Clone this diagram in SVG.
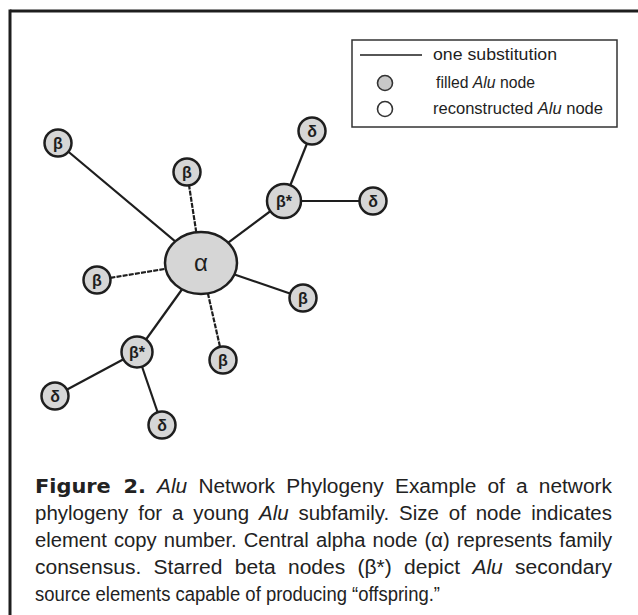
<svg xmlns="http://www.w3.org/2000/svg" width="638" height="615" viewBox="0 0 638 615">
<style>
.edge{stroke:#1e1e1e;stroke-width:2.2;fill:none}
.dash{stroke-dasharray:5 1.2}
.node{fill:#d6d6d6;stroke:#1e1e1e;stroke-width:2.5}
.lbl{font-family:"Liberation Sans",Arial,sans-serif;font-weight:bold;font-size:16px;fill:#1e1e1e;text-anchor:middle}
.alpha{font-family:"Liberation Sans",Arial,sans-serif;font-size:24px;fill:#1e1e1e;text-anchor:middle}
.leg{font-family:"Liberation Sans",Arial,sans-serif;font-size:16px;fill:#1e1e1e}
.cap{font-family:"Liberation Sans",Arial,sans-serif;font-size:19.5px;fill:#222}
.fig{font-family:"DejaVu Sans",sans-serif;font-weight:bold}
</style>
<rect x="0" y="0" width="638" height="615" fill="#ffffff"/>
<g id="frame">
<line x1="10" y1="11" x2="638" y2="11" stroke="#1e1e1e" stroke-width="3"/>
<line x1="10" y1="9.5" x2="10" y2="615" stroke="#1e1e1e" stroke-width="3"/>
</g>
<g id="legend">
<rect x="352" y="40" width="265" height="87" fill="#fff" stroke="#333" stroke-width="1.5"/>
<line x1="360" y1="55" x2="422" y2="55" stroke="#1e1e1e" stroke-width="1.5"/>
<text class="leg" x="433" y="60" textLength="124" lengthAdjust="spacingAndGlyphs">one substitution</text>
<circle cx="385" cy="83" r="7.5" fill="#c8c8c8" stroke="#333" stroke-width="1.6"/>
<text class="leg" x="436" y="88" textLength="99" lengthAdjust="spacingAndGlyphs">filled <tspan font-style="italic">Alu</tspan> node</text>
<circle cx="385" cy="109" r="7.5" fill="#fff" stroke="#333" stroke-width="1.6"/>
<text class="leg" x="433" y="114" textLength="170" lengthAdjust="spacingAndGlyphs">reconstructed <tspan font-style="italic">Alu</tspan> node</text>
</g>
<g id="connectors">
<line class="edge" x1="201" y1="263" x2="58" y2="143"/>
<line class="edge dash" x1="201" y1="263" x2="187" y2="172"/>
<line class="edge" x1="201" y1="263" x2="284" y2="201"/>
<line class="edge" x1="284" y1="201" x2="312" y2="131"/>
<line class="edge" x1="284" y1="201" x2="373" y2="201"/>
<line class="edge dash" x1="201" y1="263" x2="97" y2="280"/>
<line class="edge" x1="201" y1="263" x2="303" y2="298"/>
<line class="edge" x1="201" y1="263" x2="137" y2="352"/>
<line class="edge dash" x1="201" y1="263" x2="223" y2="360"/>
<line class="edge" x1="137" y1="352" x2="55" y2="396"/>
<line class="edge" x1="137" y1="352" x2="162" y2="425"/>
</g>
<g id="alpha"><ellipse class="node" cx="201" cy="263" rx="36" ry="31"/><text class="alpha" x="201" y="271">α</text></g>
<g id="beta-tl"><circle class="node" cx="58" cy="143" r="13.5"/><text class="lbl" x="58" y="149">β</text></g>
<g id="beta-tc"><circle class="node" cx="187" cy="172" r="13.5"/><text class="lbl" x="187" y="178">β</text></g>
<g id="betastar-up"><circle class="node" cx="284" cy="201" r="17"/><text class="lbl" x="284" y="207">β*</text></g>
<g id="delta-top"><circle class="node" cx="312" cy="131" r="13.5"/><text class="lbl" x="312" y="137">δ</text></g>
<g id="delta-right"><circle class="node" cx="373" cy="201" r="13.5"/><text class="lbl" x="373" y="207">δ</text></g>
<g id="beta-l"><circle class="node" cx="97" cy="280" r="13.5"/><text class="lbl" x="97" y="286">β</text></g>
<g id="beta-r"><circle class="node" cx="303" cy="298" r="13.5"/><text class="lbl" x="303" y="304">β</text></g>
<g id="betastar-low"><circle class="node" cx="137" cy="352" r="15.5"/><text class="lbl" x="137" y="358">β*</text></g>
<g id="beta-lc"><circle class="node" cx="223" cy="360" r="13.5"/><text class="lbl" x="223" y="366">β</text></g>
<g id="delta-ll"><circle class="node" cx="55" cy="396" r="13.5"/><text class="lbl" x="55" y="402">δ</text></g>
<g id="delta-low"><circle class="node" cx="162" cy="425" r="13.5"/><text class="lbl" x="162" y="431">δ</text></g>
<g id="caption">
<text class="cap" x="35" y="493" word-spacing="5" textLength="577" lengthAdjust="spacingAndGlyphs"><tspan class="fig">Figure 2.</tspan> <tspan font-style="italic">Alu</tspan> Network Phylogeny Example of a network</text>
<text class="cap" x="35" y="520" word-spacing="4" textLength="577" lengthAdjust="spacingAndGlyphs">phylogeny for a young <tspan font-style="italic">Alu</tspan> subfamily. Size of node indicates</text>
<text class="cap" x="35" y="547" word-spacing="1.5" textLength="577" lengthAdjust="spacingAndGlyphs">element copy number. Central alpha node (α) represents family</text>
<text class="cap" x="35" y="574" word-spacing="6" textLength="577" lengthAdjust="spacingAndGlyphs">consensus. Starred beta nodes (β*) depict <tspan font-style="italic">Alu</tspan> secondary</text>
<text class="cap" x="35" y="601" textLength="405" lengthAdjust="spacingAndGlyphs">source elements capable of producing “offspring.”</text>
</g>
</svg>
